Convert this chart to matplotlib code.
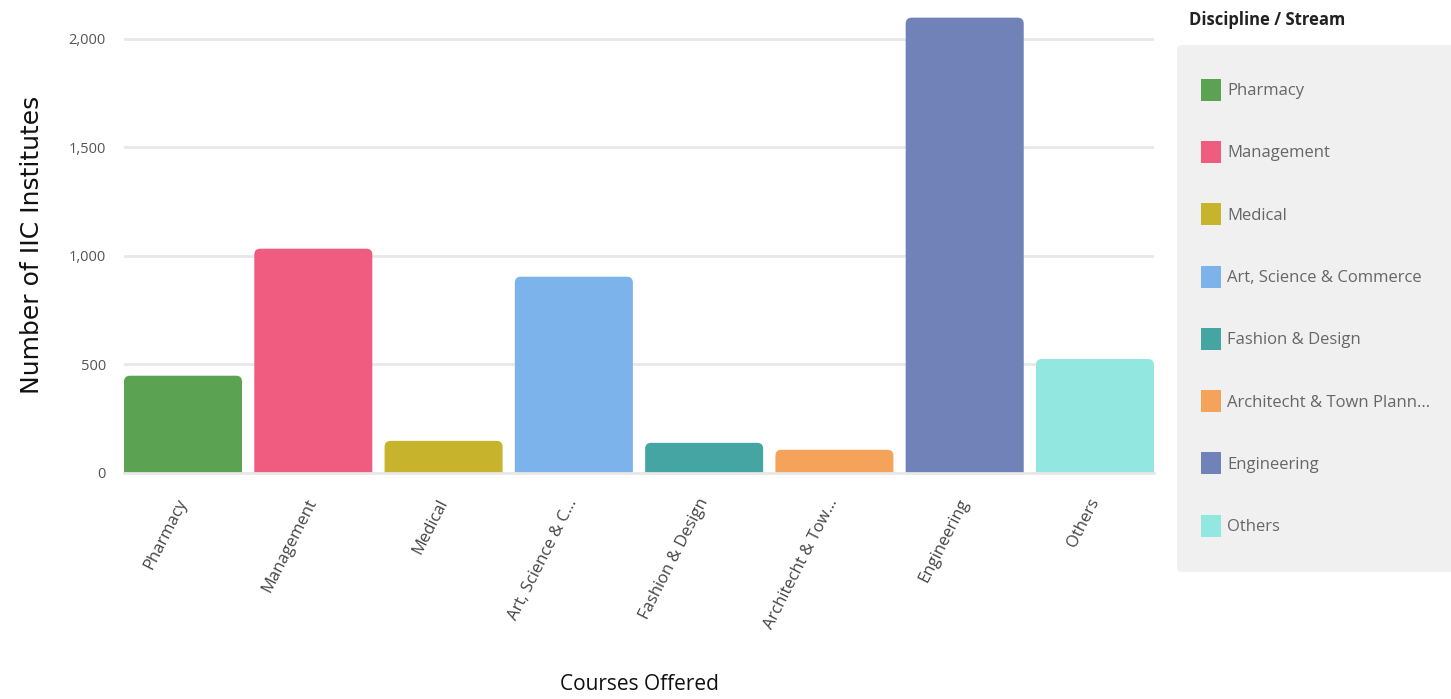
import matplotlib
matplotlib.use("Agg")
import matplotlib.pyplot as plt
from matplotlib.patches import Patch, FancyBboxPatch

# data
categories = ["Pharmacy", "Management", "Medical", "Art, Science & Commerce",
              "Fashion & Design", "Architecht & Town Planning", "Engineering", "Others"]
tick_labels = ["Pharmacy", "Management", "Medical", "Art, Science & C...",
               "Fashion & Design", "Architecht & Tow...", "Engineering", "Others"]
legend_labels = ["Pharmacy", "Management", "Medical", "Art, Science & Commerce",
                 "Fashion & Design", "Architecht & Town Plann...", "Engineering", "Others"]
counts = [448, 1033, 148, 904, 139, 107, 2097, 525]
colors = ["#5ba353", "#f05b80", "#c8b42c", "#7bb3ea",
          "#45a5a3", "#f5a35b", "#7182b8", "#92e8e0"]

plt.rcParams['font.family'] = ['Open Sans', 'DejaVu Sans']

fig = plt.figure(figsize=(14.51, 6.99), dpi=100)
ax = fig.add_axes([124/1451, 1-473/699, 1030/1451, 456/699])

W = 0.906
x = list(range(len(counts)))
bars = ax.bar(x, counts, width=W, color=colors, zorder=3)

ax.set_xlim(-W/2, len(counts)-1+W/2)
ax.set_ylim(0, 2100)

# rounded tops: swap each rectangle for a rounded patch of the same geometry
px_x = 1030 / (len(counts)-1+W)   # pixels per x unit
px_y = 456 / 2100                 # pixels per y unit
for b in bars:
    b.set_visible(False)
    rb = FancyBboxPatch((b.get_x(), -40), b.get_width(), b.get_height()+40,
                        boxstyle="round,pad=0,rounding_size=%f" % (6/px_x),
                        mutation_aspect=px_x/px_y,
                        facecolor=b.get_facecolor(), edgecolor='none', zorder=3)
    ax.add_patch(rb)

ax.set_yticks([0, 500, 1000, 1500, 2000])
ax.set_yticklabels(["0", "500", "1,000", "1,500", "2,000"])
ax.grid(axis='y', color='#e8e8e8', linewidth=2, zorder=0)
for s in ["top", "right", "left"]:
    ax.spines[s].set_visible(False)
ax.spines["bottom"].set_color('#e8e8e8')
ax.spines["bottom"].set_linewidth(2)
ax.spines["bottom"].set_zorder(4)
ax.tick_params(axis='y', length=0, labelsize=10.5, colors='#555555', pad=13)

ax.set_xticks(x)
ax.set_xticklabels(tick_labels, rotation=63, ha='right', va='center',
                   rotation_mode='anchor', fontsize=12, color='#444444')
ax.tick_params(axis='x', length=0, pad=19)

ax.set_ylabel("Number of IIC Institutes", fontsize=18, color='#111111',
              family=['DejaVu Sans'], va='center')
ax.yaxis.set_label_coords((32-124)/1030, 0.5)
ax.set_xlabel("Courses Offered", fontsize=15, color='#111111', va='center')
ax.xaxis.set_label_coords(0.5, (473-685)/456)

# legend
fig.add_artist(FancyBboxPatch((1177/1451, 1-572/699), 290/1451, 527/699,
                              boxstyle="round,pad=0,rounding_size=0.005",
                              transform=fig.transFigure, facecolor='#f0f0f0',
                              edgecolor='none'))
fig.text(1189/1451, 1-20/699, "Discipline / Stream", fontsize=12,
         fontweight='bold', color='#222222', va='center', ha='left')
handles = [Patch(facecolor=c, edgecolor='none') for c in colors]
fig.legend(handles, legend_labels, loc='upper left',
           bbox_to_anchor=(1194/1451, 1-72/699), frameon=False,
           fontsize=12, labelcolor='#666666', handlelength=1.2,
           handleheight=1.65, handletextpad=0.4, labelspacing=2.42,
           borderaxespad=0)

plt.savefig("out.png", dpi=100)
